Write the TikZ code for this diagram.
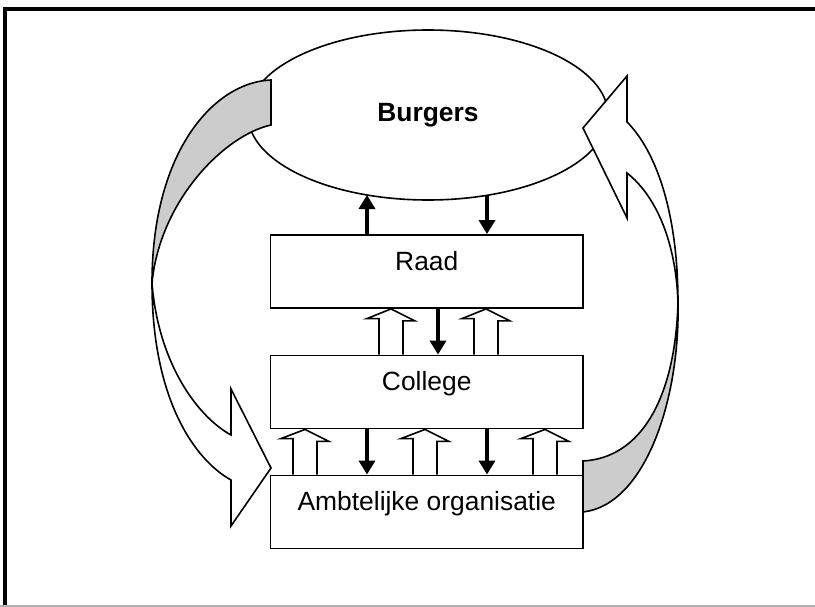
\documentclass[tikz,border=0pt]{standalone}
\usepackage{fontspec}
\setmainfont{Liberation Sans}
\usetikzlibrary{arrows.meta,shapes.geometric}
\definecolor{bandgray}{gray}{0.8}

\begin{document}
\begin{tikzpicture}[x=0.75pt,y=-0.75pt,line width=1.2pt,
    box/.style={draw,rectangle,line width=1.4pt,inner sep=0pt,minimum width=234.4pt,text height=26.25pt,text depth=28.5pt,font=\fontsize{19.8}{23}\selectfont},
    blk/.style={line width=3.4pt,-{Triangle[width=12pt,length=10.5pt]}},
    hollow/.style={draw,fill=white},
    band/.style={draw,line join=miter}]
    \useasboundingbox (0,0) rectangle (815,607);
    \draw[line width=3pt] (5.3,607) -- (5.3,9) -- (815,9);
    \draw[gray!60,line width=1pt] (0,606) -- (815,606);
    \node[draw,ellipse,inner sep=0pt,minimum width=270pt,minimum height=127.5pt,font=\bfseries\fontsize{19.8}{23}\selectfont] (burgers) at (428,115) {Burgers};
    \node[box] (raad) at (426.75,271.5) {Raad};
    \node[box] (college) at (426.75,392) {College};
    \node[box] (ambt) at (426.75,512) {Ambtelijke organisatie};
    \coordinate (up) at (367,195);
    \coordinate (down) at (487,195);
    \draw[blk] (up |- raad.north) -- (up);
    \draw[blk] (down) -- (down |- raad.north);
    \foreach \x in {391,486}
      \draw[hollow] (\x-12,0 |- college.north) -- ++(0,-36) -- ++(-12,0) -- (\x,0 |- raad.south) -- ++(24,12) -- ++(-12,0) -- (\x+12,0 |- college.north);
    \draw[blk] (438,0 |- raad.south) -- (438,0 |- college.north);
    \foreach \x in {305,425,545}
      \draw[hollow] (\x-12,0 |- ambt.north) -- ++(0,-36) -- ++(-12,0) -- (\x,0 |- college.south) -- ++(24,12) -- ++(-12,0) -- (\x+12,0 |- ambt.north);
    \foreach \x in {367,487}
      \draw[blk] (\x,0 |- college.south) -- (\x,0 |- ambt.north);
    \draw[band,fill=bandgray] (271,80) .. controls (215,82) and (152,150) .. (152,283)
      .. controls (160,200) and (225,135) .. (271,125) -- cycle;
    \draw[band,fill=white] (152,283) .. controls (158,360) and (195,415) .. (231,435)
      -- (231,389) -- (271,468) -- (231,526) -- (231,480)
      .. controls (195,460) and (152,400) .. (152,283) -- cycle;
    \draw[band,fill=bandgray] (583,461) .. controls (640,458) and (675,400) .. (678,303)
      .. controls (680,400) and (645,505) .. (583,512) -- cycle;
    \draw[band,fill=white] (678,303) .. controls (676,240) and (655,195) .. (627,173)
      -- (627,218) -- (583,128) -- (627,76) -- (627,122)
      .. controls (655,150) and (678,210) .. (678,303) -- cycle;
\end{tikzpicture}
\end{document}
